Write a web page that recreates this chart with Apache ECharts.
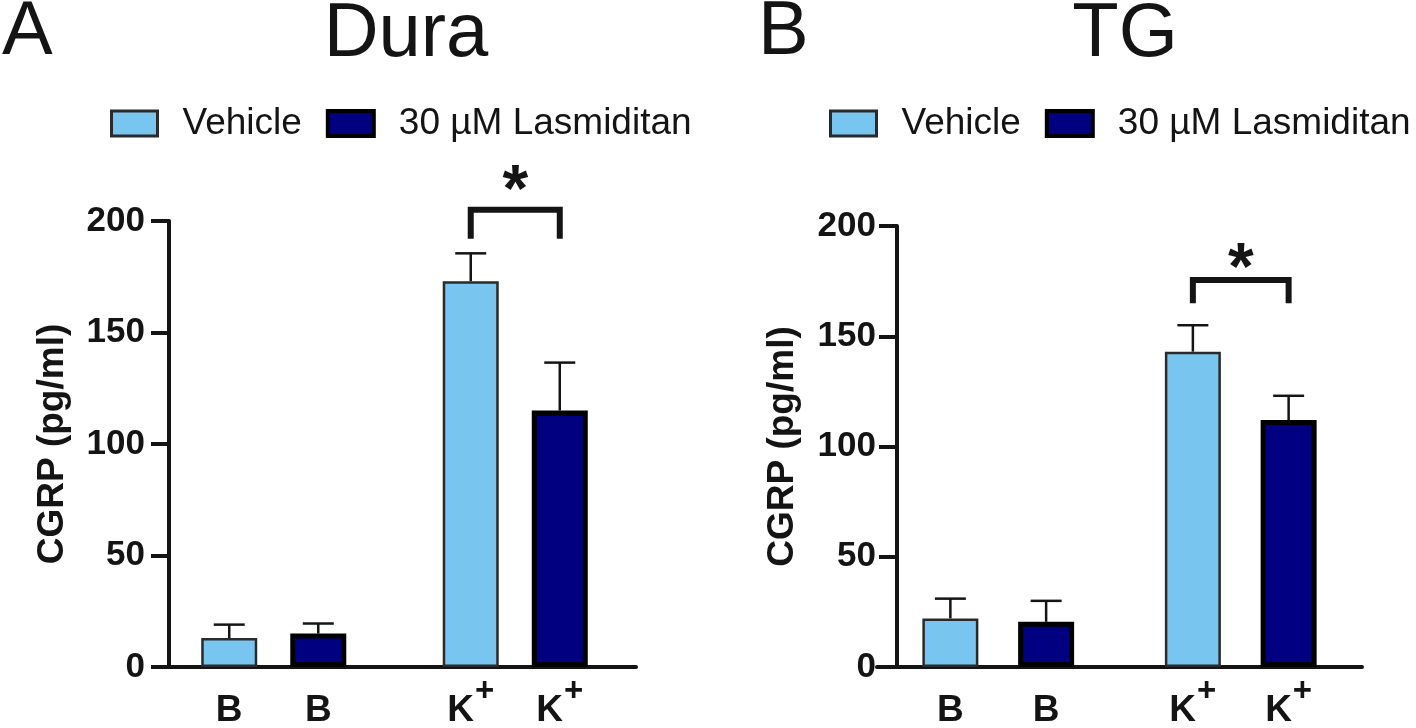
<!DOCTYPE html>
<html>
<head>
<meta charset="utf-8">
<script src="https://cdn.jsdelivr.net/npm/echarts@6/dist/echarts.min.js"></script>
<style>html,body{margin:0;padding:0;background:#fff;}#c{width:1416px;height:728px;}</style>
</head>
<body>
<div id="c"></div>
<script>
// ---- data ----
const categories = ['B', 'K+'];
const seriesNames = ['Vehicle', '30 µM Lasmiditan'];
const panelTitles = ['Dura', 'TG'];
const panelLetters = ['A', 'B'];
const yTicks = [0, 50, 100, 150, 200];
const yAxisName = 'CGRP (pg/ml)';

const duraVehicle = [13, 173];
const duraVehicleErr = [6, 12.5];
const duraLasmiditan = [15, 115];
const duraLasmiditanErr = [4.5, 21.5];

const tgVehicle = [22, 143];
const tgVehicleErr = [9, 12];
const tgLasmiditan = [20.5, 112];
const tgLasmiditanErr = [9.5, 11];

// significance: [category index, bracket top, bracket leg end, star level]
const duraSig = [[1, 205, 192, 220]];
const tgSig = [[1, 175.5, 165, 187]];
const sigLabel = '*';

// ---- styles / layout ----
const FONT = 'Liberation Sans, Arial, Helvetica, sans-serif';
const INK = '#141414';
const LIGHT = '#78C5EF';
const NAVY = '#000080';
const BAR_W = 56;

const panels = [
  {grid: {left: 153, top: 221, width: 483, height: 446}, yOffset: -16, gap: 0.59,
   v: duraVehicle, ve: duraVehicleErr, l: duraLasmiditan, le: duraLasmiditanErr, sig: duraSig,
   nameGap: 98, labelMargin: 24},
  {grid: {left: 877, top: 226, width: 485, height: 441}, yOffset: -20, gap: 0.71,
   v: tgVehicle, ve: tgVehicleErr, l: tgLasmiditan, le: tgLasmiditanErr, sig: tgSig,
   nameGap: 96, labelMargin: 21}
];

function errRenderer(offset) {
  return function (params, api) {
    const i = api.value(0), v = api.value(1), e = api.value(2);
    const p0 = api.coord([i, v]);
    const p1 = api.coord([i, v + e]);
    const cx = p0[0] + offset;
    const st = {stroke: INK, lineWidth: 2.5};
    return {type: 'group', children: [
      {type: 'line', shape: {x1: cx, y1: p0[1], x2: cx, y2: p1[1]}, style: st},
      {type: 'line', shape: {x1: cx - 15.5, y1: p1[1], x2: cx + 15.5, y2: p1[1]}, style: st}
    ]};
  };
}

function sigRenderer(offset) {
  return function (params, api) {
    const i = api.value(0);
    const top = api.coord([i, api.value(1)]);
    const leg = api.coord([i, api.value(2)]);
    const star = api.coord([i, api.value(3)]);
    const lx = top[0] - offset, rx = top[0] + offset;
    return {type: 'group', children: [
      {type: 'polyline', shape: {points: [[lx, leg[1]], [lx, top[1]], [rx, top[1]], [rx, leg[1]]]},
       style: {stroke: INK, lineWidth: 6, fill: null, lineJoin: 'miter'}},
      {type: 'text', style: {text: sigLabel, x: top[0], y: star[1] + 16, align: 'center', verticalAlign: 'middle',
        font: 'bold 66px ' + FONT, fill: INK}}
    ]};
  };
}

const labelCfg = {
  show: true, position: 'bottom', distance: 22,
  formatter: p => p.name === 'K+' ? '{b|K}{s|+}' : '{s| }{b|' + p.name + '}{s| }',
  rich: {
    b: {fontFamily: FONT, fontSize: 37, fontWeight: 'bold', color: INK, lineHeight: 40, verticalAlign: 'bottom'},
    s: {fontFamily: FONT, fontSize: 33, fontWeight: 'bold', color: INK, verticalAlign: 'bottom', lineHeight: 33, padding: [0, 0, 21, 1]}
  }
};

const option = {
  animation: false,
  backgroundColor: '#ffffff',
  title: [
    {text: panelLetters[0], left: -3, top: -10, textStyle: {fontFamily: FONT, fontSize: 76, fontWeight: 'normal', color: INK}},
    {text: panelTitles[0], left: 401, textAlign: 'center', top: -8, textStyle: {fontFamily: FONT, fontSize: 76, fontWeight: 'normal', color: INK}},
    {text: panelLetters[1], left: 753, top: -10, textStyle: {fontFamily: FONT, fontSize: 76, fontWeight: 'normal', color: INK}},
    {text: panelTitles[1], left: 1120, textAlign: 'center', top: -8, textStyle: {fontFamily: FONT, fontSize: 76, fontWeight: 'normal', color: INK}}
  ],
  legend: panels.map((p, k) => ({
    left: k === 0 ? 110 : 829, top: 105, padding: 0,
    icon: 'rect', itemWidth: 46, itemHeight: 25, itemGap: 24,
    selectedMode: false,
    textStyle: {fontFamily: FONT, fontSize: 37, color: INK, padding: [0, 0, 0, 20]},
    data: [
      {name: seriesNames[0], itemStyle: {color: LIGHT, borderColor: '#2a2a2a', borderWidth: 3}},
      {name: seriesNames[1], itemStyle: {color: NAVY, borderColor: '#000', borderWidth: 4}}
    ]
  })),
  grid: panels.map(p => p.grid),
  xAxis: panels.map((p, k) => ({
    type: 'category', gridIndex: k, data: categories,
    axisLine: {show: true, lineStyle: {color: INK, width: 4}},
    axisTick: {show: false}, axisLabel: {show: false}, splitLine: {show: false}
  })),
  yAxis: panels.map((p, k) => ({
    type: 'value', gridIndex: k, min: yTicks[0], max: yTicks[yTicks.length - 1], interval: 50,
    offset: p.yOffset,
    name: yAxisName, nameLocation: 'middle', nameGap: p.nameGap, nameRotate: 90,
    nameTextStyle: {fontFamily: FONT, fontSize: 37, fontWeight: 'bold', color: INK},
    axisLine: {show: true, lineStyle: {color: INK, width: 4}},
    axisTick: {show: true, length: 18, lineStyle: {color: INK, width: 4}},
    axisLabel: {fontFamily: FONT, fontSize: 35, fontWeight: 'bold', color: INK, margin: p.labelMargin},
    splitLine: {show: false}
  })),
  series: []
};

panels.forEach((p, k) => {
  const off = BAR_W * (1 + p.gap) / 2;
  option.series.push(
    {name: seriesNames[0], type: 'bar', xAxisIndex: k, yAxisIndex: k, data: p.v, barWidth: BAR_W,
     barGap: Math.round(p.gap * 100) + '%', z: 3,
     itemStyle: {color: LIGHT, borderColor: '#2a2a2a', borderWidth: 2.5}, label: labelCfg},
    {name: seriesNames[1], type: 'bar', xAxisIndex: k, yAxisIndex: k, data: p.l, barWidth: BAR_W,
     barGap: Math.round(p.gap * 100) + '%', z: 3,
     itemStyle: {color: NAVY, borderColor: '#000', borderWidth: 5}, label: labelCfg},
    {type: 'custom', xAxisIndex: k, yAxisIndex: k, z: 2, clip: false, silent: true,
     renderItem: errRenderer(-off), data: categories.map((c, i) => [i, p.v[i], p.ve[i]])},
    {type: 'custom', xAxisIndex: k, yAxisIndex: k, z: 2, clip: false, silent: true,
     renderItem: errRenderer(off), data: categories.map((c, i) => [i, p.l[i], p.le[i]])},
    {type: 'custom', xAxisIndex: k, yAxisIndex: k, z: 4, clip: false, silent: true,
     renderItem: sigRenderer(off), data: p.sig}
  );
});

const chart = echarts.init(document.getElementById('c'), null, {renderer: 'canvas'});
chart.setOption(option);
</script>
</body>
</html>
